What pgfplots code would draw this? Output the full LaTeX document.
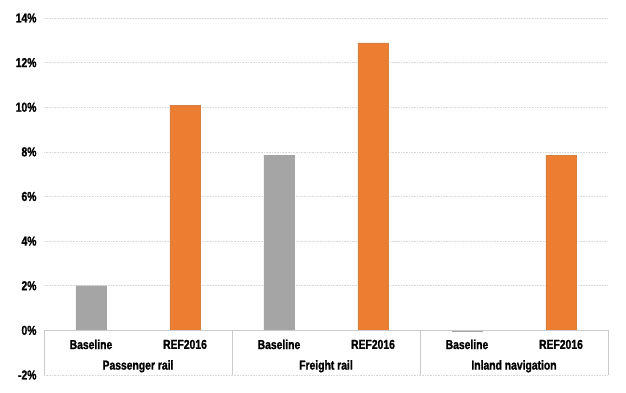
\documentclass[border=0pt]{standalone}
\usepackage{pgfplots}
\pgfplotsset{compat=1.18}
\usepackage{fontspec}
\setmainfont{Liberation Sans}[FakeStretch=0.8, BoldFeatures={FakeBold=1.2}]
\definecolor{cgray}{HTML}{A5A5A5}
\definecolor{corange}{HTML}{ED7D31}
\definecolor{cgrid}{HTML}{D9D9D9}
\begin{document}
\begin{tikzpicture}
\path[use as bounding box] (-44bp,-18bp) rectangle (582bp,375bp);
\begin{axis}[
  at={(0,0)}, anchor=south west,
  scale only axis,
  width=564bp, height=357bp,
  xmin=-0.5, xmax=5.5,
  ymin=-2, ymax=14,
  ytick={-2,0,2,4,6,8,10,12,14},
  yticklabels={-2\%,0\%,2\%,4\%,6\%,8\%,10\%,12\%,14\%},
  xtick=\empty,
  ymajorgrids,
  grid style={cgrid, line width=0.6pt, densely dotted},
  major tick length=0pt,
  axis line style={draw=none},
  tick label style={font=\fontsize{13}{15}\selectfont\bfseries},
  yticklabel style={xshift=-4bp},
  clip=false,
  bar width=0.32,
]
\addplot[ybar, fill=cgray, draw=cgray, line width=0.3pt] coordinates {(0,2.0) (2,7.85) (4,-0.05)};
\addplot[ybar, fill=corange, draw=corange!80!gray, line width=0.4pt] coordinates {(1,10.1) (3,12.88) (5,7.85)};
\draw[cgrid!85!gray, line width=0.7pt] (axis cs:-0.5,0) -- (axis cs:5.5,0);
\pgfplotsinvokeforeach{-0.5,1.5,3.5,5.5}{
  \draw[cgrid!85!gray, line width=0.7pt] (axis cs:#1,0) -- (axis cs:#1,-2);
}
\node[font=\fontsize{13}{15}\selectfont\bfseries] at (axis cs:0,-0.63) {Baseline};
\node[font=\fontsize{13}{15}\selectfont\bfseries] at (axis cs:1,-0.63) {REF2016};
\node[font=\fontsize{13}{15}\selectfont\bfseries] at (axis cs:2,-0.63) {Baseline};
\node[font=\fontsize{13}{15}\selectfont\bfseries] at (axis cs:3,-0.63) {REF2016};
\node[font=\fontsize{13}{15}\selectfont\bfseries] at (axis cs:4,-0.63) {Baseline};
\node[font=\fontsize{13}{15}\selectfont\bfseries] at (axis cs:5,-0.63) {REF2016};
\node[font=\fontsize{13}{15}\selectfont\bfseries] at (axis cs:0.5,-1.61) {Passenger rail};
\node[font=\fontsize{13}{15}\selectfont\bfseries] at (axis cs:2.5,-1.61) {Freight rail};
\node[font=\fontsize{13}{15}\selectfont\bfseries] at (axis cs:4.5,-1.61) {Inland navigation};
\end{axis}
\end{tikzpicture}
\end{document}
